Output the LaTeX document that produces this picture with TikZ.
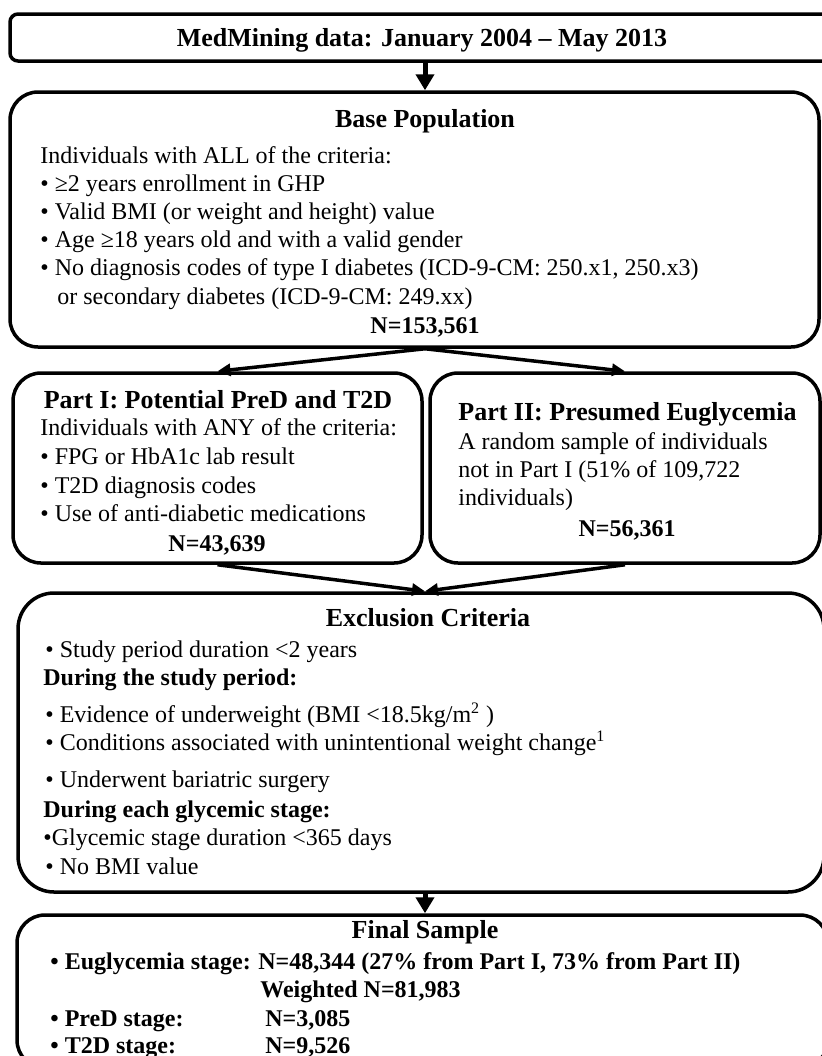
\documentclass[tikz,border=0pt]{standalone}
\usepackage{fontspec}
\setmainfont{Liberation Serif}
\usetikzlibrary{arrows.meta}

\tikzset{
  box/.style={draw, line width=1.75pt, rounded corners=14pt, inner sep=0pt},
  txt/.style={inner sep=0pt, anchor=base west, font=\fontsize{12}{14}\selectfont},
  hd/.style={inner sep=0pt, anchor=base, font=\fontsize{13}{15}\selectfont\bfseries},
  nn/.style={inner sep=0pt, anchor=base, font=\fontsize{12}{14}\selectfont\bfseries},
  bigarr/.style={line width=2.5pt, -{Triangle[length=8pt,width=9pt]}},
  arr/.style={line width=1.75pt, -{Triangle[length=6.5pt,width=6pt]}}
}

\begin{document}
\begin{tikzpicture}[x=0.5pt,y=-0.5pt]
\useasboundingbox (0,0) rectangle (822,1056);

\node[box, rounded corners=4pt, minimum width=415pt, minimum height=23.5pt] (top) at (425,37.5) {};
\node[hd] (topT) at (422,46) {MedMining data: January 2004 -- May 2013};

\node[box, minimum width=404.5pt, minimum height=127.5pt] (base) at (414.5,219.5) {};
\node[hd] (baseT) at (425,127) {Base Population};
\foreach \x/\y/\t [count=\i] in {40/163/{Individuals with ALL of the criteria:},
    40/191/{• ≥2 years enrollment in GHP},
    40/219/{• Valid BMI (or weight and height) value},
    40/247/{• Age ≥18 years old and with a valid gender},
    40/275/{• No diagnosis codes of type I diabetes (ICD-9-CM: 250.x1, 250.x3)},
    57/304/{or secondary diabetes (ICD-9-CM: 249.xx)}}
  \node[txt] (base\i) at (\x,\y) {\t};
\node[nn] (baseN) at (425,333) {N=153,561};

\node[box, minimum width=204.5pt, minimum height=95pt] (p1) at (217.5,468) {};
\node[hd] (p1T) at (218,408) {Part I: Potential PreD and T2D};
\foreach \y/\t [count=\i] in {435/{Individuals with ANY of the criteria:},
    464/{• FPG or HbA1c lab result},
    493/{• T2D diagnosis codes},
    521/{• Use of anti-diabetic medications}}
  \node[txt] (p1l\i) at (40,\y) {\t};
\node[nn] (p1N) at (217,551) {N=43,639};

\node[box, minimum width=195pt, minimum height=95pt] (p2) at (625,468) {};
\node[hd, anchor=base west] (p2T) at (458,420) {Part II: Presumed Euglycemia};
\foreach \y/\t [count=\i] in {449/{A random sample of individuals},
    477/{not in Part I (51\% of 109,722},
    505/{individuals)}}
  \node[txt] (p2l\i) at (458,\y) {\t};
\node[nn] (p2N) at (627,536) {N=56,361};

\node[box, rounded corners=18pt, minimum width=403pt, minimum height=149.5pt] (excl) at (421,742.5) {};
\node[hd] (exclT) at (428,626) {Exclusion Criteria};
\foreach \x/\y/\t [count=\i] in {45/657/{• Study period duration <2 years},
    43/685/{\bfseries During the study period:},
    45/722/{• Evidence of underweight (BMI <18.5kg/m\textsuperscript{2} )},
    45/750/{• Conditions associated with unintentional weight change\textsuperscript{1}},
    45/787/{• Underwent bariatric surgery},
    43/817/{\bfseries During each glycemic stage:},
    43/845/{•Glycemic stage duration <365 days},
    45/874/{• No BMI value}}
  \node[txt] (excl\i) at (\x,\y) {\t};

\node[box, minimum width=405.5pt, minimum height=76.5pt] (final) at (422.5,991.5) {};
\node[hd] (finalT) at (425,938) {Final Sample};
\foreach \x/\y/\t [count=\i] in {50/969/{• Euglycemia stage:},
    258/969/{N=48,344 (27\% from Part I, 73\% from Part II)},
    260/997/{Weighted N=81,983},
    50/1026/{• PreD stage:},
    265/1026/{N=3,085},
    50/1053/{• T2D stage:},
    265/1053/{N=9,526}}
  \node[txt, font=\fontsize{12}{14}\selectfont\bfseries] (fin\i) at (\x,\y) {\t};

\coordinate (split) at (top |- base.south);
\coordinate (merge) at (top |- excl.north);
\draw[bigarr] (top.south) -- (top |- base.north);
\draw[arr] (split) -- (p1.north);
\draw[arr] (split) -- (p2.north);
\draw[arr] (p1.south) -- (merge);
\draw[arr] (p2.south) -- (merge);
\draw[bigarr] (top |- excl.south) -- (top |- final.north);
\end{tikzpicture}
\end{document}
